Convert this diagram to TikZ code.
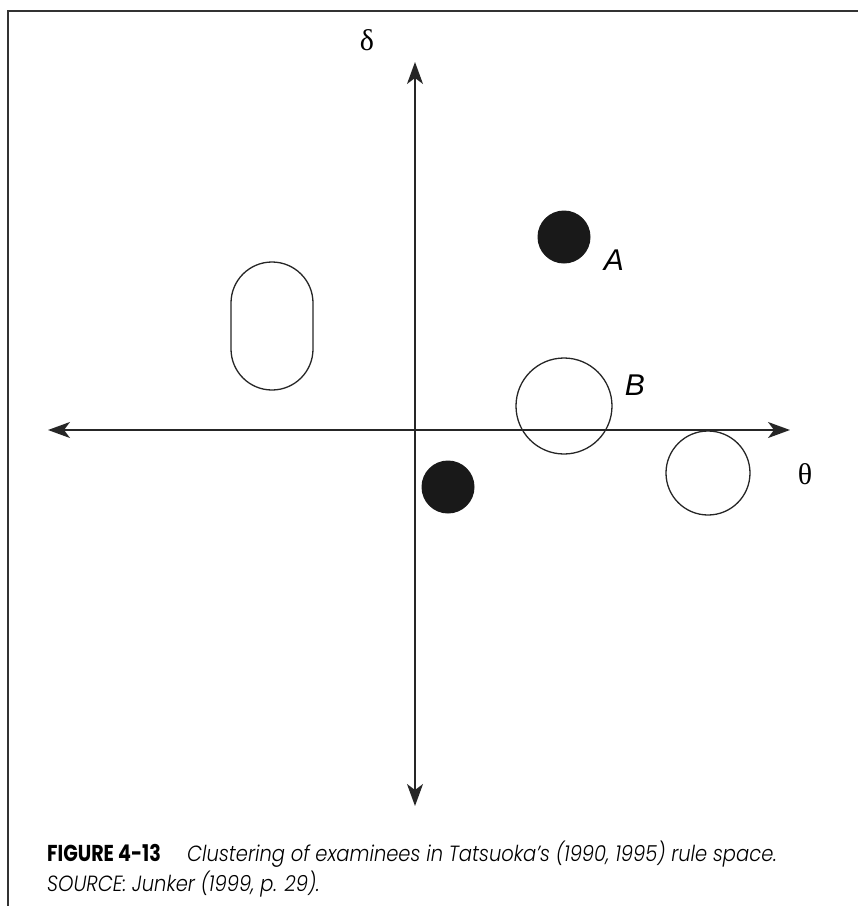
\documentclass[tikz,border=0pt]{standalone}
\usepackage{fontspec}
\setmainfont{Liberation Serif}
\newfontfamily\labelfont{Liberation Sans}
\newfontfamily\capfont{Poppins}[ItalicFont={Poppins Light Italic}]
\usetikzlibrary{arrows.meta, positioning}

\begin{document}
\begin{tikzpicture}[x=1pt,y=-1pt,
	axis/.style={line width=1.6pt,black!85,
		{Stealth[length=22pt,width=16pt,inset=6pt]}-{Stealth[length=22pt,width=16pt,inset=6pt]}},
	full/.style={circle,fill=black!90,minimum size=53pt,inner sep=0pt},
	open/.style={circle,draw=black!85,line width=1.3pt,inner sep=0pt},
	letter/.style={font=\labelfont\itshape\fontsize{30}{30}\selectfont},
	greek/.style={font=\fontsize{30}{30}\selectfont},
	captext/.style={anchor=base west,inner sep=0pt}]
\useasboundingbox (0,0) rectangle (858,906);
\draw[line width=2pt,black!80] (8,906) -- (8,11) -- (858,11);
% axes
\coordinate (W) at (48,430);
\coordinate (E) at (790,430);
\coordinate (N) at (415,62);
\coordinate (S) at (415,806);
\draw[axis] (W) -- (E);
\draw[axis] (N) -- (S);
\node[greek] (delta) at (367,40) {δ};
\node[greek] (theta) at (805,474) {θ};
% clusters
\node[full] (A) at (564,237) {};
\node[full] (C) at (448,487) {};
\node[open,minimum size=96pt] (B) at (564,406) {};
\node[open,minimum size=84pt] (D) at (708,473) {};
\node[open,rectangle,rounded corners=41pt,minimum width=82pt,minimum height=128pt] (R) at (272,326) {};
\node[letter] (Alab) at (614,260) {A};
\node[letter] (Blab) at (635,385) {B};
% caption
\node[captext] (fig) at (47,861)
	{\scalebox{0.83}[1]{\capfont\bfseries\fontsize{23}{23}\selectfont FIGURE 4-13}};
\node[captext] (cap1) at (187,861)
	{\scalebox{0.886}[1]{\capfont\itshape\fontsize{22}{22}\selectfont Clustering of examinees in Tatsuoka’s (1990, 1995) rule space.}};
\node[captext] (cap2) at (47,891)
	{\scalebox{0.886}[1]{\capfont\itshape\fontsize{22}{22}\selectfont SOURCE: Junker (1999, p. 29).}};
\end{tikzpicture}
\end{document}
